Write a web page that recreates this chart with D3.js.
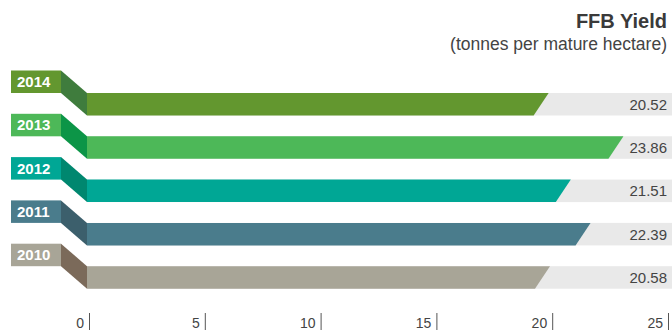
<!DOCTYPE html>
<html>
<head>
<meta charset="utf-8">
<script src="https://cdn.jsdelivr.net/npm/d3@7"></script>
<style>
  html, body { margin: 0; padding: 0; background: #fff; }
  svg { display: block; font-family: "Liberation Sans", Arial, Helvetica, sans-serif; }
</style>
</head>
<body>
<svg id="chart" width="672" height="331"></svg>
<script>
// FFB yield per year (tonnes per mature hectare)
const years = ["2014", "2013", "2012", "2011", "2010"];
const yields = [20.52, 23.86, 21.51, 22.39, 20.58];
const barColors = ["#63972f", "#4db858", "#00a795", "#4a7c8c", "#a8a597"];
const foldColors = ["#3f7c3d", "#0c9547", "#00876f", "#3c5f6c", "#7b6a5a"];
const axisTicks = [0, 5, 10, 15, 20, 25];

const svg = d3.select("#chart");
const W = 672;

// Scales
const axisX = d3.scaleLinear().domain([0, 25]).range([89, 668]);
const barX = d3.scaleLinear().domain([0, 25]).range([89, 89 + 25 * 22.4]);
const barH = 22.5;
const y = d3.scaleBand()
  .domain(years)
  .range([93, 93 + 4 * 43.3 + barH])
  .paddingInner((43.3 - barH) / 43.3)
  .paddingOuter(0);

const boxX0 = 11, boxX1 = 61, barStart = 87, slant = 15;

// Title
svg.append("text")
  .attr("x", 667).attr("y", 28)
  .attr("text-anchor", "end")
  .attr("font-size", 20).attr("font-weight", "bold")
  .attr("fill", "#3a3a3a")
  .text("FFB Yield");
svg.append("text")
  .attr("x", 667).attr("y", 50)
  .attr("text-anchor", "end")
  .attr("font-size", 17.5)
  .attr("fill", "#444")
  .text("(tonnes per mature hectare)");

const rows = svg.selectAll("g.row")
  .data(years.map((yr, i) => ({ yr, v: yields[i], c: barColors[i], f: foldColors[i] })))
  .join("g").attr("class", "row");

// Track behind each bar
rows.append("rect")
  .attr("x", barStart).attr("y", d => y(d.yr))
  .attr("width", W - barStart).attr("height", barH)
  .attr("fill", "#e9e9e9");

// Bar with slanted end
rows.append("path")
  .attr("fill", d => d.c)
  .attr("d", d => {
    const t = y(d.yr), b = t + barH, e = barX(d.v);
    return `M${barStart},${t}L${e},${t}L${e - slant},${b}L${barStart},${b}Z`;
  });

// Fold connecting the year tab to the bar
rows.append("path")
  .attr("fill", d => d.f)
  .attr("d", d => {
    const t = y(d.yr), b = t + barH, bt = t - barH;
    return `M${boxX1},${bt}L${barStart},${t}L${barStart},${b}L${boxX1},${t}Z`;
  });

// Year tab
rows.append("rect")
  .attr("x", boxX0).attr("y", d => y(d.yr) - barH)
  .attr("width", boxX1 - boxX0).attr("height", barH)
  .attr("fill", d => d.c);
rows.append("text")
  .attr("x", 17).attr("y", d => y(d.yr) - barH / 2)
  .attr("dy", "0.36em")
  .attr("font-size", 15).attr("font-weight", "bold")
  .attr("fill", "#fff")
  .text(d => d.yr);

// Value labels
rows.append("text")
  .attr("x", 667).attr("y", d => y(d.yr) + barH / 2)
  .attr("dy", "0.36em")
  .attr("text-anchor", "end")
  .attr("font-size", 15)
  .attr("fill", "#444")
  .text(d => d.v.toFixed(2));

// Axis ticks with labels set to the left of each tick
const ticks = svg.append("g").selectAll("g").data(axisTicks).join("g")
  .attr("transform", d => `translate(${axisX(d)},0)`);
ticks.append("line")
  .attr("x1", 0.5).attr("x2", 0.5).attr("y1", 313).attr("y2", 330)
  .attr("stroke", "#555").attr("stroke-width", 1);
ticks.append("text")
  .attr("x", -5).attr("y", 328)
  .attr("text-anchor", "end")
  .attr("font-family", "'Liberation Sans Narrow', 'Liberation Sans', Arial, sans-serif")
  .attr("font-size", 14)
  .attr("fill", "#444")
  .text(d => d);
</script>
</body>
</html>
